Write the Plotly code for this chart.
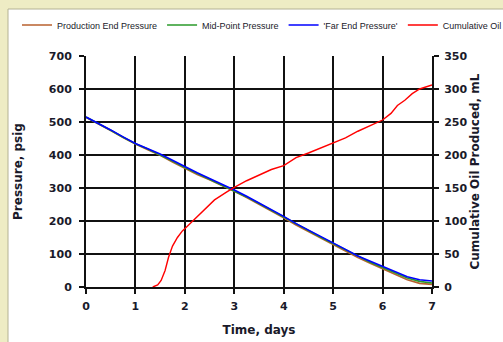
import plotly.graph_objects as go

# ---- data ----
t_p = [0, 0.25, 0.5, 0.75, 1.0, 1.25, 1.5, 1.75, 2.0, 2.25, 2.5, 2.75, 3.0, 3.25, 3.5,
       3.75, 4.0, 4.25, 4.5, 4.75, 5.0, 5.25, 5.5, 5.75, 6.0, 6.25, 6.5, 6.75, 7.0]
far_end = [515, 496, 476, 455, 435, 419, 403, 384, 364, 346, 329, 312, 294, 275, 255,
           234, 214, 192, 173, 153, 134, 114, 94, 78, 62, 45, 31, 22, 18]
mid_point = [515, 496, 475, 454, 434, 418, 401, 382, 362, 344, 327, 310, 292, 273, 253,
             232, 212, 190, 171, 151, 132, 112, 92, 75, 59, 42, 27, 17, 12]
prod_end = [514, 495, 474, 453, 433, 416, 399, 379, 359, 341, 325, 308, 290, 271, 251,
            230, 210, 188, 169, 149, 129, 109, 89, 72, 55, 38, 22, 11, 8]

t_oil = [1.35, 1.45, 1.52, 1.6, 1.67, 1.75, 1.85, 1.95, 2.05, 2.25, 2.45, 2.6, 2.85, 3.0,
         3.25, 3.5, 3.75, 4.0, 4.25, 4.5, 4.75, 5.0, 5.25, 5.5, 5.75, 6.0, 6.17, 6.3,
         6.45, 6.6, 6.75, 7.0]
cum_oil = [0, 3, 10, 25, 45, 62, 75, 85, 92, 106, 121, 132, 144, 151,
           161, 170, 178, 184, 196, 203, 211, 219, 226, 236, 245, 253, 263, 275,
           283, 293, 300, 306]

x_ticks = [0, 1, 2, 3, 4, 5, 6, 7]
y_ticks = [0, 100, 200, 300, 400, 500, 600, 700]
y2_ticks = [0, 50, 100, 150, 200, 250, 300, 350]

# ---- layout constants (pixels) ----
W, H = 503, 342
L, R, T, B = 86, 0, 56, 55
plot_right = 432
gw = W - L - R
gh = H - T - B
xdom_end = (plot_right - L) / gw

tick_font = dict(family="DejaVu Sans", size=11, color="#1a1a2a", weight="bold")
title_font = dict(family="DejaVu Sans", size=12, color="#1a1a2a", weight="bold")

fig = go.Figure()
fig.add_trace(go.Scatter(x=t_p, y=prod_end, mode="lines", name="Production End Pressure",
                         line=dict(color="#B8602E", width=1.6)))
fig.add_trace(go.Scatter(x=t_p, y=mid_point, mode="lines", name="Mid-Point Pressure",
                         line=dict(color="#2A9A2A", width=1.6)))
fig.add_trace(go.Scatter(x=t_p, y=far_end, mode="lines", name="'Far End Pressure'",
                         line=dict(color="#0000FF", width=1.6)))
fig.add_trace(go.Scatter(x=t_oil, y=cum_oil, mode="lines", name="Cumulative Oil",
                         line=dict(color="#FF0000", width=1.4), yaxis="y2"))

axis_common = dict(ticks="outside", ticklen=5, tickwidth=2, tickcolor="#111",
                   showline=True, linecolor="#111", linewidth=2,
                   zeroline=False, tickfont=tick_font, automargin=False)

fig.update_layout(
    template="none",
    width=W, height=H,
    margin=dict(l=L, r=R, t=T, b=B, pad=0, autoexpand=False),
    paper_bgcolor="#EEECC4",
    plot_bgcolor="rgba(0,0,0,0)",
    xaxis=dict(domain=[0, xdom_end], range=[0, 7], tickvals=x_ticks,
               showgrid=True, gridcolor="#111", gridwidth=2, ticklabelstandoff=3,
               title=dict(text="Time, days", font=title_font, standoff=13),
               **axis_common),
    yaxis=dict(range=[0, 700], tickvals=y_ticks,
               showgrid=True, gridcolor="#111", gridwidth=2, ticklabelstandoff=5,
               title=dict(text="Pressure, psig", font=title_font, standoff=24),
               **axis_common),
    yaxis2=dict(range=[0, 350], tickvals=y2_ticks, overlaying="y", side="right",
                anchor="x", showgrid=False, ticklabelstandoff=3,
                title=dict(text="Cumulative Oil Produced, mL", font=title_font, standoff=0),
                **axis_common),
    legend=dict(orientation="h", x=(17 - L) / gw, xanchor="left",
                y=1 + (T - 25) / gh, yanchor="middle",
                bgcolor="rgba(0,0,0,0)", borderwidth=0,
                font=dict(family="Liberation Sans", size=9, color="#1a1a2a")),
    shapes=[dict(type="rect", xref="paper", yref="paper", layer="below",
                 x0=(8 - L) / gw, x1=(W + 10 - L) / gw,
                 y0=-(B + 10) / gh, y1=1 + (T - 9) / gh,
                 fillcolor="white", line=dict(color="#B4B294", width=1))],
)

fig.write_html("out.html")
